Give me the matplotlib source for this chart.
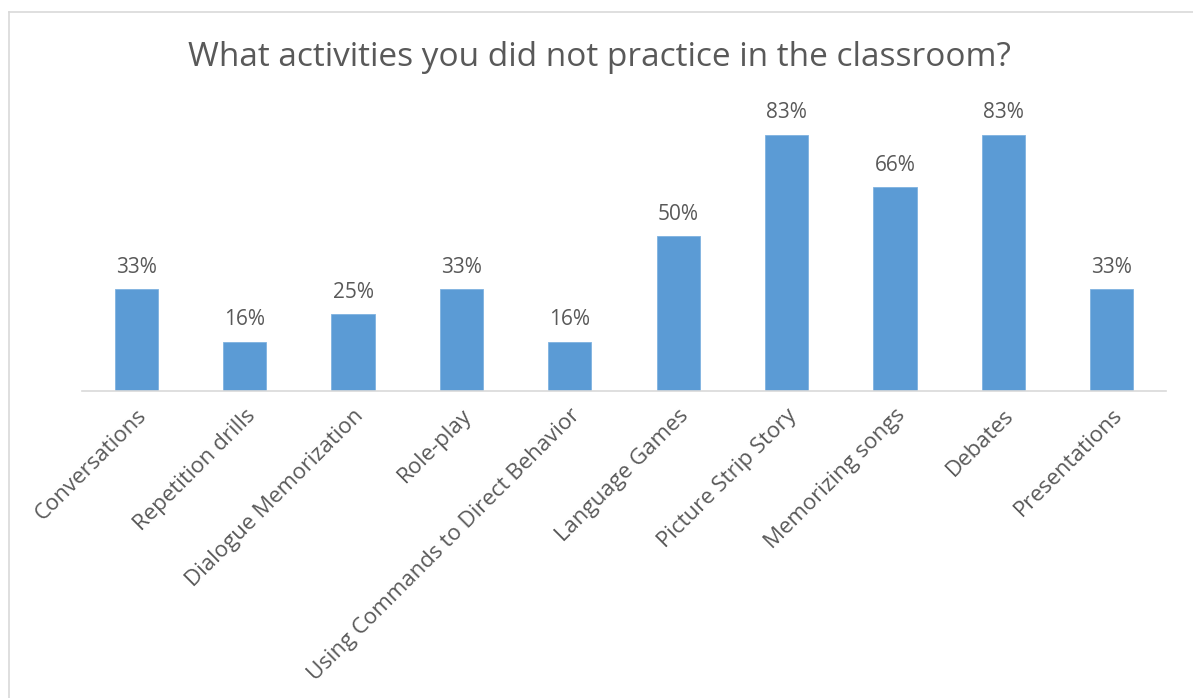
import matplotlib
matplotlib.use("Agg")
import matplotlib.pyplot as plt
from matplotlib.lines import Line2D

activities = [
    "Conversations", "Repetition drills", "Dialogue Memorization", "Role-play",
    "Using Commands to Direct Behavior", "Language Games", "Picture Strip Story",
    "Memorizing songs", "Debates", "Presentations",
]
percent = [33, 16, 25, 33, 16, 50, 83, 66, 83, 33]
title = "What activities you did not practice in the classroom?"

bar_color = "#5B9BD5"
text_color = "#595959"
font = "Open Sans"

W, H, dpi = 1193, 698, 100
fig = plt.figure(figsize=(W / dpi, H / dpi), dpi=dpi)
fig.patch.set_facecolor("white")

# plot area in pixel terms: baseline at y=391, x from 82 to 1166
left, right = 82 / W, 1166 / W
bottom = 1 - 391 / H
ymax = 90
top_px = 391 - ymax * 3.09
ax = fig.add_axes([left, bottom, right - left, (391 - top_px) / H])

x = list(range(len(activities)))
bars = ax.bar(x, percent, width=0.4, color=bar_color, edgecolor="#7FB2E0", linewidth=0.6, zorder=2)
ax.set_xlim(-0.5, len(activities) - 0.5)
ax.set_ylim(0, ymax)

for b, v in zip(bars, percent):
    ax.annotate(f"{v}%", (b.get_x() + b.get_width() / 2, v), xytext=(0, 8),
                textcoords="offset points", ha="center", va="bottom",
                fontsize=15, color=text_color, family=font)

for s in ["top", "right", "left"]:
    ax.spines[s].set_visible(False)
ax.spines["bottom"].set_color("#D9D9D9")
ax.spines["bottom"].set_linewidth(1.2)
ax.set_yticks([])
ax.set_xticks(x)
ax.set_xticklabels(activities, rotation=45, ha="right", va="top",
                   rotation_mode="anchor", fontsize=16, color=text_color, family=font)
ax.tick_params(axis="x", length=0, pad=10)

fig.text(0.5025, 1 - 58 / H, title, ha="center", va="center",
         fontsize=24, color=text_color, family=font)

# chart frame (top and left edges)
fig.add_artist(Line2D([8.5 / W, 1.0], [1 - 11.5 / H] * 2, color="#D9D9D9", lw=1.2))
fig.add_artist(Line2D([8.5 / W] * 2, [0, 1 - 11.5 / H], color="#D9D9D9", lw=1.2))

fig.savefig("out.png", dpi=dpi, facecolor="white")
